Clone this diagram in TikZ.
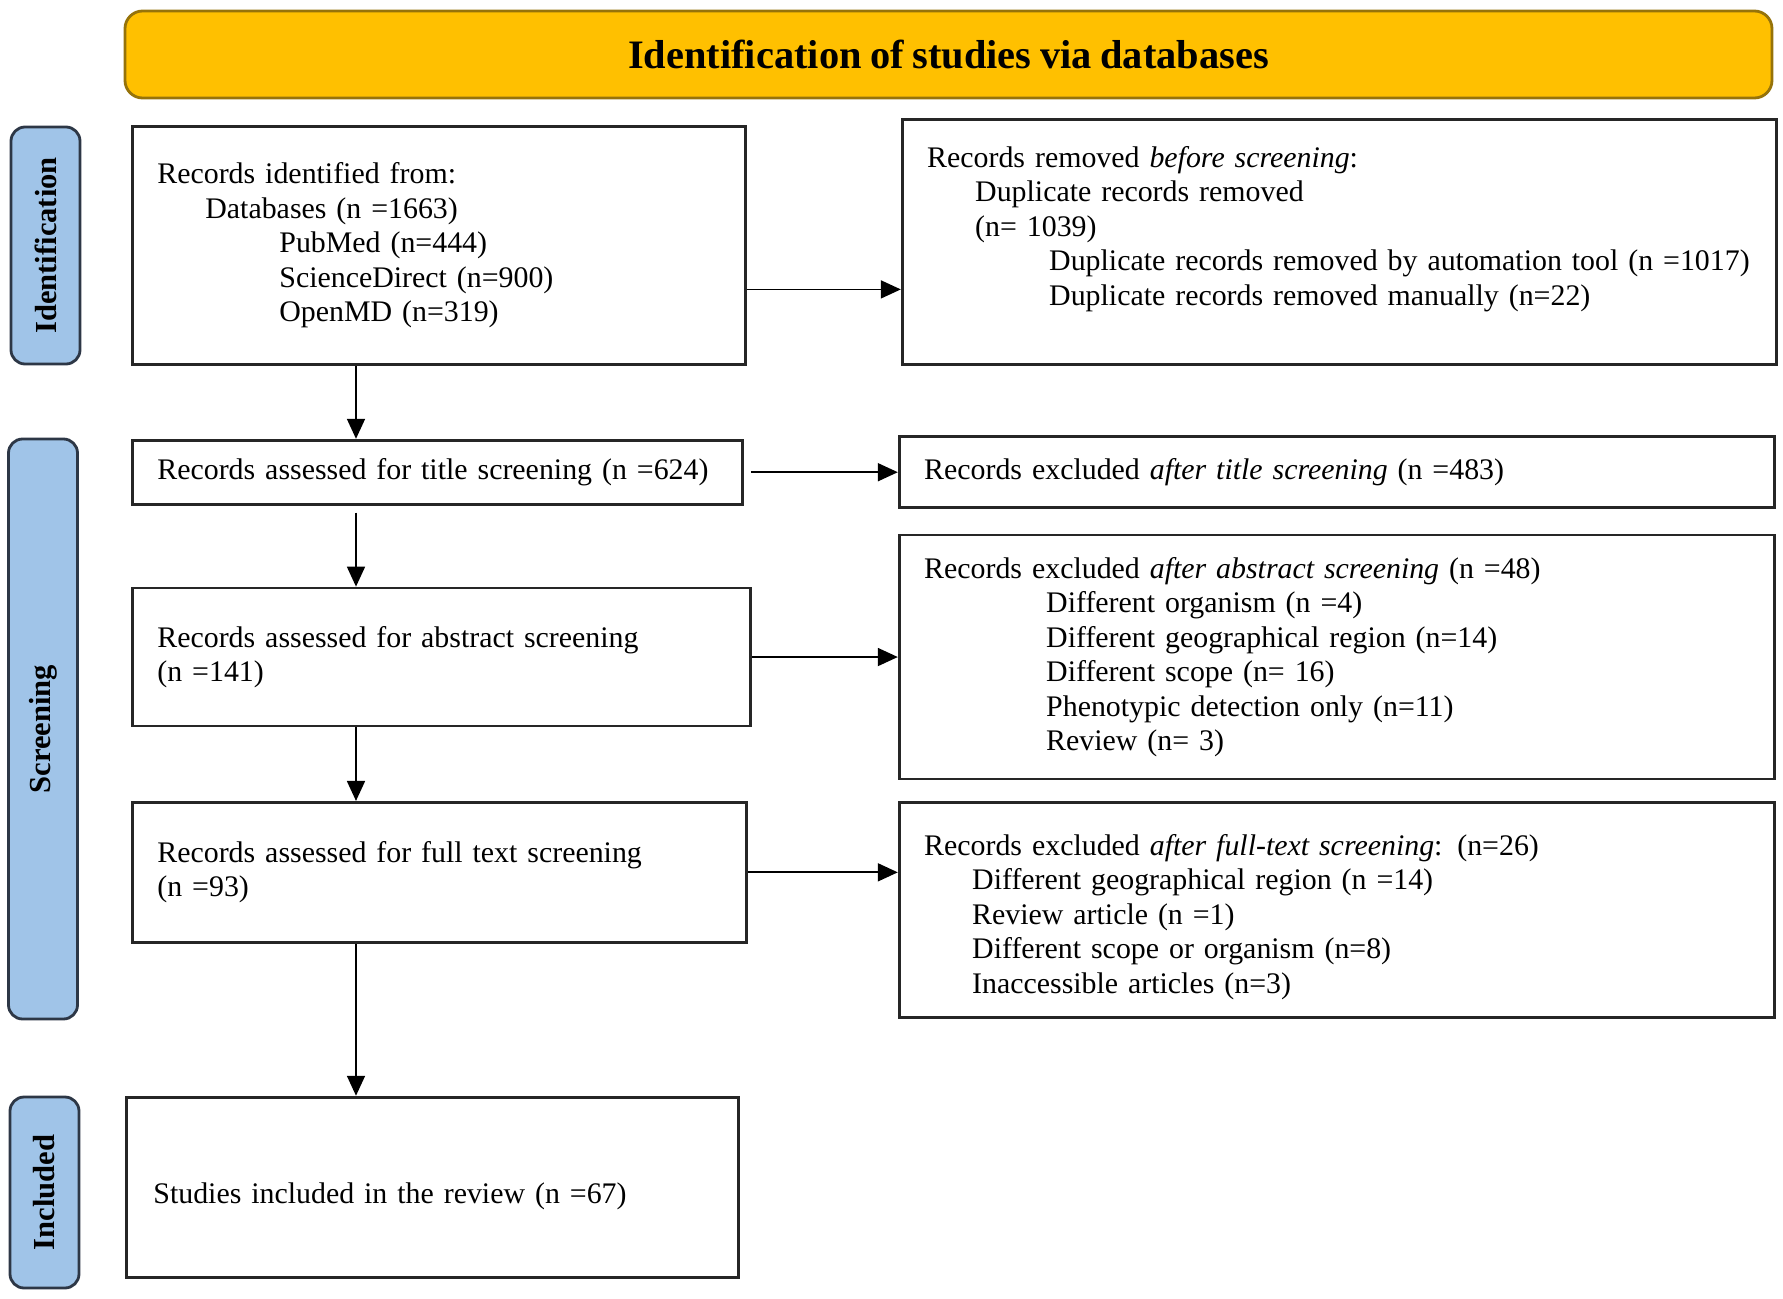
\documentclass[tikz,border=0pt]{standalone}
\usepackage{fontspec}
\setmainfont{Liberation Serif}[WordSpace=0.85]
\usetikzlibrary{arrows.meta, positioning}
\definecolor{headfill}{RGB}{255,192,0}
\definecolor{headborder}{RGB}{150,115,10}
\definecolor{phasefill}{RGB}{160,196,232}
\definecolor{phaseborder}{RGB}{45,55,70}
\newcommand{\indA}{\hspace*{0.48cm}}
\newcommand{\indB}{\hspace*{1.22cm}}
\tikzset{
  headbox/.style={
    rectangle, rounded corners=5pt,
    fill=headfill, draw=headborder, line width=0.8pt,
    font=\fontsize{11.5}{13}\selectfont\bfseries,
    minimum width=16.47cm, minimum height=0.87cm},
  phasebox/.style={
    rectangle, rounded corners=4pt, rotate=90,
    fill=phasefill, draw=phaseborder, line width=0.8pt,
    font=\fontsize{8.7}{10}\selectfont\bfseries,
    minimum height=0.69cm, inner sep=0pt},
  recbox/.style={
    rectangle, draw=black!85, line width=0.8pt,
    align=left, font=\fontsize{8.5}{9.8}\selectfont,
    inner xsep=0.25cm, inner ysep=0pt},
  arrow/.style={-{Triangle[length=0.2cm, width=0.18cm]}, line width=0.5pt,
                color=black}
}
\begin{document}
\begin{tikzpicture}
  \useasboundingbox (0,0) rectangle (17.83,-12.99);

  %% Header
  \node[headbox] (head) at (9.485,-0.545) {Identification of studies via databases};

  %% Phase labels
  \node[phasebox, minimum width=2.37cm] (idlab) at (0.455,-2.455) {Identification};
  \node[phasebox, minimum width=5.80cm] (scrlab) at (0.43,-7.29) {Screening};
  \node[phasebox, minimum width=1.91cm] (inclab) at (0.445,-11.925) {Included};

  %% Left column
  \node[recbox, text width=5.63cm, minimum height=2.38cm, anchor=north west]
    (idbox) at (1.31,-1.25) {Records identified from:\\
    \indA Databases (n =1663)\\
    \indB PubMed (n=444)\\
    \indB ScienceDirect (n=900)\\
    \indB OpenMD (n=319)};

  \node[recbox, text width=5.60cm, minimum height=0.64cm,
    below=0.73cm of idbox.south west, anchor=north west]
    (title) {Records assessed for title screening (n =624)};

  \node[recbox, text width=5.68cm, minimum height=1.38cm,
    below=0.81cm of title.south west, anchor=north west]
    (abstract) {Records assessed for abstract screening\\(n =141)};

  \node[recbox, text width=5.64cm, minimum height=1.40cm,
    below=0.735cm of abstract.south west, anchor=north west]
    (fulltext) {Records assessed for full text screening\\(n =93)};

  \node[recbox, text width=5.58cm, inner xsep=0.27cm, minimum height=1.80cm,
    below=1.52cm of fulltext.south west, anchor=north west, xshift=-0.06cm]
    (included) {\rule{0pt}{0.40cm}Studies included in the review (n =67)};

  %% Right column
  \node[recbox, text width=8.24cm, minimum height=2.45cm,
    right=1.54cm of idbox.north east, anchor=north west, yshift=0.07cm]
    (removed) {Records removed \textit{before screening}:\\
    \indA Duplicate records removed\\
    \indA (n= 1039)\\
    \indB Duplicate records removed by automation tool (n =1017)\\
    \indB Duplicate records removed manually (n=22)\rule[-0.32cm]{0pt}{0pt}};

  \node[recbox, text width=8.25cm, minimum height=0.71cm, right=1.54cm of title]
    (titleex) {Records excluded \textit{after title screening} (n =483)};

  \node[recbox, text width=8.25cm, minimum height=2.44cm, right=1.46cm of abstract]
    (abstractex) {Records excluded \textit{after abstract screening} (n =48)\\
    \indB Different organism (n =4)\\
    \indB Different geographical region (n=14)\\
    \indB Different scope (n= 16)\\
    \indB Phenotypic detection only (n=11)\\
    \indB Review (n= 3)};

  \node[recbox, text width=8.25cm, minimum height=2.15cm,
    right=1.50cm of fulltext.north east, anchor=north west]
    (fullex) {\rule{0pt}{0.35cm}Records excluded \textit{after full-text screening}: (n=26)\\
    \indA Different geographical region (n =14)\\
    \indA Review article (n =1)\\
    \indA Different scope or organism (n=8)\\
    \indA Inaccessible articles (n=3)};

  %% Arrows: main flow
  \coordinate (spine) at (3.56,0);
  \draw[arrow] (idbox.south -| spine) -- (title.north -| spine);
  \draw[arrow, shorten <=0.07cm] (title.south -| spine) -- (abstract.north -| spine);
  \draw[arrow] (abstract.south -| spine) -- (fulltext.north -| spine);
  \draw[arrow] (fulltext.south -| spine) -- (included.north -| spine);

  %% Arrows: exclusions
  \draw[arrow] ([yshift=-0.44cm]idbox.east) -- ([yshift=-0.44cm]idbox.east -| removed.west);
  \draw[arrow, shorten <=0.07cm] (title.east) -- (title.east -| titleex.west);
  \draw[arrow] (abstract.east) -- (abstract.east -| abstractex.west);
  \draw[arrow] (fulltext.east) -- (fulltext.east -| fullex.west);

\end{tikzpicture}
\end{document}
